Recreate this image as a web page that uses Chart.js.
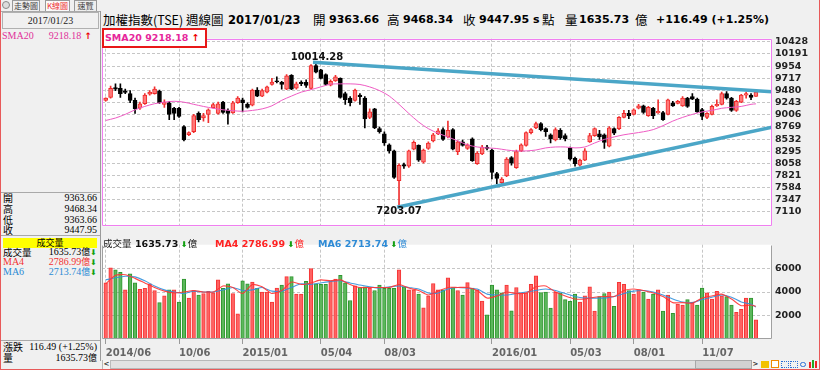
<!DOCTYPE html>
<html><head><meta charset="utf-8">
<script src="https://cdn.jsdelivr.net/npm/chart.js@4.4.1/dist/chart.umd.min.js"></script>
<style>
*{box-sizing:border-box}
html,body{margin:0;padding:0}
body{width:820px;height:370px;overflow:hidden;background:#f0f0f0;position:relative;font-family:"DejaVu Sans",sans-serif;color:#000}
.a{position:absolute;white-space:nowrap;line-height:1;z-index:5}
.cjk{font-family:"Noto Sans CJK TC","Noto Sans CJK SC",sans-serif}
.b{font-family:"DejaVu Sans",sans-serif;font-weight:bold}
.sf{font-family:"Liberation Serif","Noto Sans CJK TC",serif}
.hl{position:absolute;height:1px;background:#a9a9a9;z-index:4}
canvas{position:absolute}
.gr{color:#13a013;font-size:8px;font-family:"DejaVu Sans"}
</style></head><body>
<script>
// ===== DATA =====
const open  = [9287,9346,9537,9519,9471,9418,9287,9132,9221,9406,9418,9465,9209,9239,9132,9132,8775,8615,8674,9031,8942,9013,9144,9031,9251,9090,9043,9239,9299,9209,9192,9489,9370,9447,9596,9668,9638,9507,9775,9525,9640,9638,9519,9965,9882,9787,9584,9667,9715,9418,9329,9287,9388,9329,8954,9120,8734,8632,8419,8300,7722,8032,8002,8335,8407,8080,8347,8496,8632,8716,8573,8716,8288,8478,8347,8537,8050,8240,8377,8318,7859,7681,7812,8169,7972,8300,8407,8656,8751,8835,8734,8615,8513,8704,8597,8359,8157,8020,8121,8478,8597,8632,8615,8395,8734,8734,8954,9031,9013,9132,9180,8989,9132,9043,9049,9013,9239,9227,9180,9329,9358,9311,9108,8954,9013,9180,9209,9418,9329,9090,9251,9388,9388,9363.66];
const high  = [9335,9566,9608,9608,9507,9477,9329,9251,9418,9477,9549,9489,9299,9269,9150,9150,8793,8674,9013,9061,9031,9120,9227,9251,9269,9120,9269,9358,9329,9239,9507,9537,9507,9566,9715,9745,9656,9787,9787,9644,9668,9685,9983,10014.28,9894,9805,9685,9775,9727,9447,9358,9507,9418,9358,9120,9132,8763,8674,8437,8318,8050,8062,8318,8496,8419,8335,8478,8644,8734,8751,8882,8734,8496,8513,8437,8555,8288,8407,8407,8335,7883,7782,8169,8192,8318,8437,8674,8734,8864,8853,8751,8632,8751,8734,8632,8377,8181,8139,8347,8644,8751,8704,8632,8775,8751,8972,9090,9090,9120,9209,9192,9168,9150,9299,9073,9311,9269,9287,9358,9346,9418,9329,9132,9049,9192,9299,9447,9460,9346,9287,9406,9447,9418,9468.34];
const low   = [9270,9329,9477,9346,9418,9239,9031,9108,9209,9388,9406,9227,9150,8912,8912,8954,8496,8597,8656,8864,8882,8853,9132,9019,9031,8823,9031,9227,9061,9132,9180,9358,9358,9430,9584,9626,9507,9495,9495,9507,9572,9537,9507,9822,9703,9584,9566,9656,9329,9209,9180,9269,9209,8751,8930,8734,8644,8407,8258,7764,7203.07,7960,7978,8318,8097,8062,8329,8478,8615,8507,8555,8318,8228,8395,8329,8097,8038,8228,8318,7752,7663,7621,7800,8020,7960,8288,8395,8632,8734,8692,8585,8454,8496,8525,8496,8121,8002,8002,8109,8466,8585,8525,8347,8377,8615,8716,8942,8930,9001,9120,9031,8972,8930,9031,8894,9001,9168,9215,9168,9150,9299,9049,8912,8930,9001,9168,9198,9311,9073,9073,9239,9329,9299,9363.66];
const close = [9329,9519,9507,9418,9441,9287,9120,9221,9388,9447,9507,9239,9251,9013,9031,8972,8513,8656,8989,8912,8989,9102,9203,9221,9049,9031,9239,9329,9239,9150,9489,9370,9477,9549,9644,9650,9596,9763,9507,9608,9614,9578,9965,9834,9715,9596,9656,9745,9346,9299,9239,9489,9358,8924,9061,8751,8674,8454,8300,7782,8020,8002,8300,8466,8121,8318,8454,8615,8692,8525,8704,8335,8478,8407,8419,8109,8258,8377,8347,7883,7764,7752,8139,8062,8288,8419,8656,8716,8835,8716,8674,8537,8716,8555,8537,8139,8050,8121,8300,8597,8734,8573,8466,8751,8644,8954,9031,8989,9102,9180,9049,9150,8989,9073,8912,9299,9180,9269,9329,9168,9311,9061,8972,9031,9168,9209,9418,9329,9090,9269,9388,9418,9346,9447.95];
const volume = [4773,6063,5882,5676,4180,5547,4773,4231,4309,4696,4128,3096,3664,4180,4180,3148,5108,3483,4128,3741,3870,4050,3922,5031,4309,4696,3870,2141,4954,4696,4850,4309,3999,3999,3148,4334,4592,5315,5315,3818,3818,4902,5986,4696,4644,4644,4954,5108,5418,4773,3277,4515,4386,4438,4334,4128,4592,4309,4309,4309,5882,4438,4180,4180,3818,2657,3664,4721,4180,4180,5212,4386,4128,3741,4799,4334,4180,3225,2064,4592,4180,3922,4592,2399,4386,3922,3922,4644,5366,3947,3999,2632,3999,3922,3354,3199,3818,3148,3664,4438,2374,3612,3870,3999,2786,4825,4644,4128,3818,4180,3999,3406,3818,4180,2374,3741,2193,2967,2890,3354,3148,2890,4334,3922,3406,4050,3664,3612,2890,2270,2528,3483,3483,1635.73];
// indicator lines, read at these week indices
const maIdx  = [0,2,4,6,8,10,12,14,16,18,20,22,24,26,28,30,32,34,36,38,40,42,44,46,48,50,52,54,56,58,60,62,64,66,68,70,72,74,76,78,80,82,84,86,88,90,92,94,96,98,100,102,104,106,108,110,112,114,116,118,120,122,124,126,128,130,132,133];
const sma20  = [8894,8942,9013,9102,9168,9221,9251,9269,9251,9209,9168,9132,9102,9085,9073,9090,9120,9180,9287,9370,9447,9495,9549,9602,9608,9608,9596,9549,9477,9370,9209,9031,8865,8734,8644,8573,8496,8419,8377,8359,8347,8318,8300,8300,8318,8359,8377,8377,8359,8377,8454,8525,8573,8615,8644,8674,8716,8793,8882,8954,9013,9061,9090,9132,9150,9168,9209,9218.18];
const volMa4 = [4696,5418,5470,5160,4773,4386,4076,3922,3999,4128,3999,3999,4515,4386,3870,4644,4438,3870,4128,4850,4644,4773,5031,4954,5031,4644,4386,4386,4386,4386,4644,4334,4128,3741,4076,4386,4386,4386,4128,3483,3664,3999,3870,3922,4438,4515,3999,3664,3406,3406,3560,3612,3612,4128,4257,4128,3922,3612,3096,3096,3044,3483,3664,3818,3406,2838,2890,2786.99];
const volMa6 = [5031,5212,5341,5289,4954,4515,4180,3999,3870,4076,3999,3999,4180,4386,4128,4180,4386,4076,4076,4386,4696,4644,4773,4902,4954,4773,4592,4438,4334,4438,4515,4386,4257,3922,3922,4257,4386,4334,4257,3818,3741,3741,3870,3999,4128,4257,4128,3870,3612,3483,3483,3483,3612,3870,4076,4128,3999,3741,3406,3148,3096,3354,3560,3741,3560,3148,2967,2713.74];
// axes
const tickIdx  = [0,15,28,44,57,79,95,108,122];
const tickText = ['2014/06','10/06','2015/01','05/04','08/03','2016/01','05/03','08/01','11/07'];
const priceTicks = [7110,7347,7584,7821,8058,8295,8532,8769,9006,9243,9480,9717,9954,10191,10428];
const volTicks = [2000,4000,6000];
// trend lines (week index, price)
const upperTrend = [{x:42.4,y:10030},{x:136.3,y:9455}];
const lowerTrend = [{x:59.6,y:7203.07},{x:136.3,y:8765}];
const peakMark   = {i:43, v:10014.28, text:'10014.28'};
const troughMark = {i:60, v:7203.07, text:'7203.07'};
</script>

<!-- outer frame -->
<div style="position:absolute;left:0;top:0;width:820px;height:370px;border:1px solid #e85a5a;border-top:none;z-index:20;pointer-events:none"></div>

<!-- tabs -->
<div class="a" style="left:2px;top:1px;width:8px;height:8px;border:1px solid #888;border-radius:50%;background:#ddd"></div>
<div class="a cjk" style="left:12px;top:0;width:28px;height:11px;border:1px solid #999;border-bottom:none;font-size:8px;line-height:10px;text-align:center;color:#444;background:#eee">走勢圖</div>
<div class="a cjk" style="left:45px;top:0;width:25px;height:11px;border:1px solid #999;border-bottom:none;font-size:8px;line-height:10px;text-align:center;color:#e33;background:#fafafa">K線圖</div>
<div class="a cjk" style="left:74px;top:0;width:23px;height:11px;border:1px solid #999;border-bottom:none;font-size:8px;line-height:10px;text-align:center;color:#444;background:#eee">速覽</div>
<div class="hl" style="left:0;top:11px;width:100px"></div>

<!-- left panel -->
<div class="a sf" style="left:2px;top:12px;width:97px;height:17px;border:1px solid #b0b0b0;font-size:10px;line-height:15px;text-align:center;color:#222">2017/01/23</div>
<div class="a sf" style="left:2px;top:30px;font-size:10px;line-height:11px;color:#e0309a">SMA20</div>
<div class="a sf" style="right:728px;top:30px;font-size:10px;line-height:11px;color:#e0309a">9218.18<span style="color:#e00;font-weight:bold;font-family:'DejaVu Sans';font-size:9px"> ↑</span></div>
<div style="position:absolute;left:100px;top:11px;width:1px;height:350px;background:#9a9a9a;z-index:4"></div>
<div class="hl" style="left:0;top:192px;width:100px"></div>
<div class="a cjk" style="left:3px;top:192px;font-size:10px;line-height:11px">開</div>
<div class="a sf" style="right:723px;top:192px;font-size:10px;line-height:11px">9363.66</div>
<div class="a cjk" style="left:3px;top:203px;font-size:10px;line-height:11px">高</div>
<div class="a sf" style="right:723px;top:203px;font-size:10px;line-height:11px">9468.34</div>
<div class="a cjk" style="left:3px;top:214px;font-size:10px;line-height:11px">低</div>
<div class="a sf" style="right:723px;top:214px;font-size:10px;line-height:11px">9363.66</div>
<div class="a cjk" style="left:3px;top:224px;font-size:10px;line-height:11px">收</div>
<div class="a sf" style="right:723px;top:224px;font-size:10px;line-height:11px">9447.95</div>
<div class="hl" style="left:0;top:235px;width:100px"></div>
<div class="a cjk" style="left:3px;top:238px;width:94px;height:10px;background:#ffff00;font-size:9px;line-height:10px;text-align:center">成交量</div>
<div class="a cjk" style="left:3px;top:247px;font-size:9.5px;line-height:10px">成交量</div>
<div class="a sf" style="right:723px;top:247px;font-size:10px;line-height:10px">1635.73<span class="cjk" style="font-size:9px">億</span><span class="gr">⬇</span></div>
<div class="a sf" style="left:3px;top:257px;font-size:10px;line-height:10px;color:#f23030">MA4</div>
<div class="a sf" style="right:723px;top:257px;font-size:10px;line-height:10px;color:#f23030">2786.99<span class="cjk" style="font-size:9px">億</span><span class="gr">⬇</span></div>
<div class="a sf" style="left:3px;top:267px;font-size:10px;line-height:10px;color:#2a8ad4">MA6</div>
<div class="a sf" style="right:723px;top:267px;font-size:10px;line-height:10px;color:#2a8ad4">2713.74<span class="cjk" style="font-size:9px">億</span><span class="gr">⬇</span></div>
<div class="hl" style="left:0;top:340px;width:100px"></div>
<div class="a cjk" style="left:3px;top:341px;font-size:10px;line-height:11px">漲跌</div>
<div class="a sf" style="right:723px;top:341px;font-size:10px;line-height:11px">116.49 (+1.25%)</div>
<div class="a cjk" style="left:3px;top:352px;font-size:10px;line-height:11px">量</div>
<div class="a sf" style="right:723px;top:352px;font-size:10px;line-height:11px">1635.73<span class="cjk" style="font-size:9px">億</span></div>

<!-- title row -->
<div class="a cjk" style="left:103px;top:13px;font-size:12.5px;line-height:14px">加權指數(TSE)</div>
<div class="a cjk" style="left:186px;top:13px;font-size:12.5px;line-height:14px">週線圖</div>
<div class="a b" style="left:228px;top:13px;font-size:11.5px;line-height:14px">2017/01/23</div>
<div class="a cjk" style="left:313px;top:13px;font-size:12.5px;line-height:14px">開</div>
<div class="a b" style="left:329px;top:13px;font-size:11px;line-height:14px">9363.66</div>
<div class="a cjk" style="left:387px;top:13px;font-size:12.5px;line-height:14px">高</div>
<div class="a b" style="left:403px;top:13px;font-size:11px;line-height:14px">9468.34</div>
<div class="a cjk" style="left:463px;top:13px;font-size:12.5px;line-height:14px">收</div>
<div class="a b" style="left:479px;top:13px;font-size:11px;line-height:14px">9447.95</div>
<div class="a b" style="left:533px;top:13px;font-size:11px;line-height:14px">s</div>
<div class="a cjk" style="left:542px;top:13px;font-size:12.5px;line-height:14px">點</div>
<div class="a cjk" style="left:565px;top:13px;font-size:12.5px;line-height:14px">量</div>
<div class="a b" style="left:579px;top:13px;font-size:11px;line-height:14px">1635.73</div>
<div class="a cjk" style="left:635px;top:13px;font-size:12.5px;line-height:14px">億</div>
<div class="a b" style="left:656px;top:13px;font-size:11px;line-height:14px">+116.49 (+1.25%)</div>

<!-- SMA20 box -->
<div class="a b" style="left:102px;top:28px;width:105px;height:20px;border:2px solid #e81818;background:#fff;font-size:9.5px;line-height:16px;padding-left:1px;color:#e6269b">SMA20 9218.18 <span style="color:#e00">↑</span></div>

<!-- volume legend -->
<div class="a cjk" style="left:103px;top:238px;font-size:9.5px;line-height:11px;color:#222">成交量</div>
<div class="a b" style="left:135px;top:238px;font-size:9.5px;line-height:11px;color:#111">1635.73<span class="gr"> ⬇</span><span class="cjk" style="font-weight:normal">億</span></div>
<div class="a b" style="left:215px;top:238px;font-size:9.5px;line-height:11px;color:#f22">MA4 2786.99<span class="gr"> ⬇</span><span class="cjk" style="font-weight:normal">億</span></div>
<div class="a b" style="left:318px;top:238px;font-size:9.5px;line-height:11px;color:#2e8bd6">MA6 2713.74<span class="gr"> ⬇</span><span class="cjk" style="font-weight:normal">億</span></div>

<!-- scrollbar + icons -->
<div class="a" style="left:102px;top:360px;width:657px;height:9px;background:#e2e2e2;border:1px solid #b8b8b8"></div>
<div class="a b" style="left:103px;top:360px;width:8px;height:9px;font-size:7px;line-height:9px;text-align:center;color:#333;background:#f4f4f4;border-right:1px solid #bbb">&lt;</div>
<div class="a" style="left:695px;top:360px;width:57px;height:9px;background:#d2d2d2;border:1px solid #a8a8a8"></div>
<div class="a b" style="left:752px;top:360px;width:7px;height:9px;font-size:7px;line-height:9px;text-align:center;color:#333;background:#f4f4f4">&gt;</div>
<div class="a" style="left:761px;top:361px;width:8px;height:7px;background:#f2c200"></div>
<div class="a" style="left:771px;top:360px;width:8px;height:8px;background:#fff;border:1px solid #f08a00"></div>
<div class="a" style="left:781px;top:361px;width:8px;height:7px;border:1px dotted #2a6fd6"></div>
<div class="a" style="left:790px;top:361px;width:8px;height:7px;border:1px dotted #2a6fd6"></div>
<div class="a" style="left:800px;top:362px;width:6px;height:5px;border:1px solid #2a6fd6;border-radius:3px"></div>
<div class="a" style="left:809px;top:362px;width:2px;height:6px;background:#e22"></div>
<div class="a" style="left:812px;top:360px;width:2px;height:8px;background:#2a2"></div>
<div class="a" style="left:815px;top:361px;width:2px;height:7px;background:#e22"></div>

<canvas id="price" width="716" height="205" style="left:102px;top:30px"></canvas>
<canvas id="vol" width="716" height="124" style="left:102px;top:236px"></canvas>

<script>
Chart.defaults.font.family = '"DejaVu Sans", sans-serif';
const X_MIN = -0.757, X_MAX = 136.29;
const idx = close.map((_, i) => i);
const isUp = idx.map(i => close[i] >= open[i]);
const volUp = idx.map(i => i === 0 ? isUp[0] : close[i] >= close[i - 1]);

const bgPlugin = { id: 'bg', beforeDraw(c) {
  const { ctx, chartArea: r } = c; ctx.save(); ctx.fillStyle = '#fff';
  ctx.fillRect(r.left, r.top, r.right - r.left, r.bottom - r.top); ctx.restore(); } };
const framePlugin = { id: 'frame', afterDraw(c, args, o) {
  const { ctx, chartArea: r } = c; ctx.save(); ctx.lineWidth = 1; ctx.strokeStyle = o.color;
  const L = Math.round(r.left) + 0.5, R = Math.round(r.right) - 0.5, T = Math.round(r.top) + 0.5, B = Math.round(r.bottom) - 0.5;
  ctx.beginPath();
  if (o.top) { ctx.moveTo(L, T); ctx.lineTo(R, T); }
  if (o.bottom) { ctx.moveTo(L, B); ctx.lineTo(R, B); }
  if (o.left) { ctx.moveTo(L, T); ctx.lineTo(L, B); }
  if (o.right) { ctx.moveTo(R, T); ctx.lineTo(R, B); }
  ctx.stroke(); ctx.restore(); } };
const markPlugin = { id: 'marks', afterDatasetsDraw(c) {
  const { ctx, scales: { x, y } } = c; ctx.save();
  ctx.font = 'bold 10px "DejaVu Sans"'; ctx.fillStyle = '#111'; ctx.textAlign = 'center'; ctx.textBaseline = 'middle';
  ctx.fillText(peakMark.text, x.getPixelForValue(peakMark.i) + 1, y.getPixelForValue(peakMark.v) - 6);
  ctx.fillText(troughMark.text, x.getPixelForValue(troughMark.i), y.getPixelForValue(troughMark.v) + 4.5);
  ctx.restore(); } };

const gridCol = '#c6c6c6';
const xScaleBase = {
  type: 'linear', min: X_MIN, max: X_MAX, offset: false,
  afterBuildTicks: s => { s.ticks = tickIdx.map(v => ({ value: v })); },
};

new Chart(document.getElementById('price'), {
  type: 'bar',
  data: { datasets: [
    { type: 'line', data: upperTrend, borderColor: '#4ba6c7', borderWidth: 3.5, pointRadius: 0, order: 0 },
    { type: 'line', data: lowerTrend, borderColor: '#4ba6c7', borderWidth: 3.5, pointRadius: 0, order: 0 },
    { type: 'line', data: maIdx.map((x, k) => ({ x, y: sma20[k] })), borderColor: '#ef5cc4', borderWidth: 1, pointRadius: 0, tension: 0.3, order: 1 },
    { data: idx.map(i => ({ x: i, y: [open[i], close[i]] })),
      backgroundColor: idx.map(i => isUp[i] ? '#ff7878' : '#000'),
      borderColor: idx.map(i => isUp[i] ? '#f02a2a' : '#000'),
      borderWidth: 1, borderSkipped: false, barThickness: 4, minBarLength: 1, grouped: false, order: 2 },
    { data: idx.map(i => ({ x: i, y: [low[i], high[i]] })),
      backgroundColor: idx.map(i => isUp[i] ? '#f03030' : '#000'),
      barThickness: 1, grouped: false, order: 3 }
  ] },
  options: {
    responsive: false, animation: false, events: [],
    layout: { padding: 0, autoPadding: false },
    plugins: { legend: { display: false }, tooltip: { enabled: false },
      frame: { color: '#f07ef0', top: true, bottom: true, left: true, right: true } },
    scales: {
      x: Object.assign({}, xScaleBase, {
        afterFit: s => { s.height = 0; },
        ticks: { display: false },
        grid: { color: gridCol, drawTicks: false, offset: false },
        border: { display: false, dash: [3, 2] } }),
      y: { position: 'right', min: 6830, max: 10489,
        afterBuildTicks: s => { s.ticks = priceTicks.map(v => ({ value: v })); },
        afterFit: s => { s.width = 46; },
        ticks: { autoSkip: false, callback: v => String(v), padding: 3, crossAlign: 'near', color: '#222',
          font: { weight: 'bold', size: 9.5 } },
        grid: { color: gridCol, drawTicks: false },
        border: { display: false, dash: [3, 2] } }
    }
  },
  plugins: [bgPlugin, framePlugin, markPlugin]
});

new Chart(document.getElementById('vol'), {
  type: 'bar',
  data: { datasets: [
    { type: 'line', data: maIdx.map((x, k) => ({ x, y: volMa4[k] })), borderColor: 'rgba(255,50,50,0.9)', borderWidth: 1.1, pointRadius: 0, tension: 0.2, order: 0 },
    { type: 'line', data: maIdx.map((x, k) => ({ x, y: volMa6[k] })), borderColor: 'rgba(50,145,220,0.9)', borderWidth: 1.1, pointRadius: 0, tension: 0.2, order: 0 },
    { data: idx.map(i => ({ x: i, y: volume[i] })),
      backgroundColor: idx.map(i => volUp[i] ? '#ff6262' : '#5cb85c'),
      borderColor: idx.map(i => volUp[i] ? '#f53535' : '#2f952f'),
      borderWidth: 1, borderSkipped: false, barThickness: 3.6, grouped: false, order: 1 }
  ] },
  options: {
    responsive: false, animation: false, events: [],
    layout: { padding: 0, autoPadding: false },
    plugins: { legend: { display: false }, tooltip: { enabled: false },
      frame: { color: '#a0a0a0', top: false, bottom: true, left: true, right: true } },
    scales: {
      x: Object.assign({}, xScaleBase, {
        afterFit: s => { s.height = 21; },
        ticks: { autoSkip: false, maxRotation: 0, align: 'start', padding: 3, color: '#666',
          font: { weight: 'bold', size: 10 },
          callback: v => tickText[tickIdx.indexOf(v)] },
        grid: { color: gridCol, drawTicks: true, tickLength: 5, tickColor: '#999', tickBorderDash: [], offset: false },
        border: { display: false, dash: [3, 2] } }),
      y: { position: 'right', min: 0, max: 8026,
        afterBuildTicks: s => { s.ticks = volTicks.map(v => ({ value: v })); },
        afterFit: s => { s.width = 46; },
        ticks: { autoSkip: false, callback: v => String(v), padding: 3, crossAlign: 'near', color: '#222',
          font: { weight: 'bold', size: 9.5 } },
        grid: { color: gridCol, drawTicks: false },
        border: { display: false, dash: [3, 2] } }
    }
  },
  plugins: [bgPlugin, framePlugin]
});
</script>
</body></html>
